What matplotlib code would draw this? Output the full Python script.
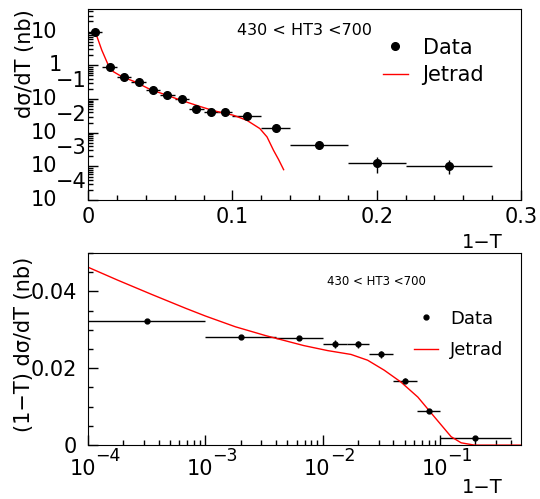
import numpy as np
import matplotlib
matplotlib.use("Agg")
import matplotlib.pyplot as plt
from matplotlib.lines import Line2D
from matplotlib.ticker import MultipleLocator, LogLocator, NullFormatter

plt.rcParams['font.family'] = ['DejaVu Sans']

# top panel: d sigma / dT, linear 1-T
t_x = [0.005, 0.015, 0.025, 0.035, 0.045, 0.055, 0.065, 0.075, 0.085, 0.095,
       0.11, 0.13, 0.16, 0.20, 0.25]
t_lo = [0.0025, 0.01, 0.02, 0.03, 0.04, 0.05, 0.06, 0.07, 0.08, 0.09,
        0.10, 0.12, 0.14, 0.18, 0.22]
t_hi = [0.0095, 0.02, 0.03, 0.04, 0.05, 0.06, 0.07, 0.08, 0.09, 0.10,
        0.12, 0.14, 0.18, 0.22, 0.28]
t_y = [10.0, 0.91, 0.44, 0.33, 0.186, 0.132, 0.099, 0.051, 0.042, 0.042,
       0.032, 0.014, 0.0042, 0.00124, 0.00106]
t_err = [0.2, 0.02, 0.01, 0.008, 0.005, 0.004, 0.003, 0.002, 0.0015, 0.0015,
         0.0012, 0.0008, 0.0005, 0.0006, 0.00047]

jet_x = [0.005, 0.0095, 0.014, 0.0175, 0.0235, 0.0325, 0.043, 0.0545, 0.064,
         0.0776, 0.087, 0.1007, 0.11, 0.119, 0.124, 0.1285, 0.132, 0.1355]
jet_y = [10.0, 2.85, 1.02, 0.65, 0.46, 0.325, 0.193, 0.13, 0.093,
         0.06, 0.045, 0.033, 0.0234, 0.0133, 0.0075, 0.003, 0.0016, 0.0008]

# bottom panel: (1-T) d sigma / dT, log 1-T
b_x = [3.16e-4, 2.0e-3, 6.3e-3, 0.0126, 0.02, 0.0316, 0.0502, 0.08, 0.2]
b_lo = [1e-4, 1e-3, 4e-3, 0.01, 0.016, 0.025, 0.04, 0.063, 0.1]
b_hi = [1e-3, 4e-3, 1e-2, 0.016, 0.025, 0.04, 0.063, 0.1, 0.4]
b_y = [0.0322, 0.0281, 0.0279, 0.0264, 0.0262, 0.0236, 0.0168, 0.0089, 0.0019]
b_err = [0.0003, 0.0003, 0.0003, 0.001, 0.001, 0.0009, 0.0007, 0.0005, 0.0003]

jb_x = [1e-4, 1.8e-4, 3.5e-4, 6.8e-4, 1e-3, 1.8e-3, 3.26e-3, 6.9e-3, 0.011,
        0.0174, 0.0241, 0.0334, 0.0464, 0.0646, 0.0891, 0.124, 0.151, 0.196, 0.5]
jb_y = [0.0463, 0.0429, 0.0392, 0.0356, 0.0336, 0.0308, 0.0285, 0.0259, 0.0246,
        0.0236, 0.0221, 0.0195, 0.0164, 0.0125, 0.0074, 0.0022, 0.0006, 0.0, 0.0]

top_ticks = [1e-4, 1e-3, 1e-2, 1e-1, 1, 10]
top_exp = ['\u22124', '\u22123', '\u22122', '\u22121', None, None]
bot_ticks = [1e-4, 1e-3, 1e-2, 1e-1]
bot_exp = ['\u22124', '\u22123', '\u22122', '\u22121']

fig = plt.figure(figsize=(5.4, 4.99), dpi=100)
ax1 = fig.add_axes([0.163, 0.599, 0.802, 0.383])
ax2 = fig.add_axes([0.163, 0.108, 0.802, 0.385])

# ---- top panel
xe = [np.array(t_x) - np.array(t_lo), np.array(t_hi) - np.array(t_x)]
ax1.errorbar(t_x, t_y, xerr=xe, yerr=t_err, fmt='o', color='black', ms=5.5,
             elinewidth=1, capsize=0)
ax1.plot(jet_x, jet_y, color='red', lw=1)
ax1.set_yscale('log')
ax1.set_xlim(0, 0.3)
ax1.set_ylim(1e-4, 47)
ax1.set_xticks([0, 0.1, 0.2, 0.3])
ax1.set_xticklabels(['0', '0.1', '0.2', '0.3'])
ax1.xaxis.set_minor_locator(MultipleLocator(0.02))
ax1.yaxis.set_major_locator(LogLocator(base=10, numticks=20))
ax1.yaxis.set_minor_locator(LogLocator(base=10, subs=np.arange(2, 10), numticks=20))
ax1.yaxis.set_major_formatter(NullFormatter())
ax1.yaxis.set_minor_formatter(NullFormatter())
ax1.tick_params(axis='both', which='major', direction='in', length=7, width=1,
                labelsize=15, top=False, right=False)
ax1.tick_params(axis='both', which='minor', direction='in', length=3.5, width=1,
                top=False, right=False)
ax1.tick_params(axis='x', pad=5)
ytr = ax1.get_yaxis_transform()
for v, e in zip(top_ticks, top_exp):
    if v == 1:
        ax1.annotate('1', xy=(0, v), xycoords=ytr, xytext=(-19, 0),
                     textcoords='offset points', ha='right', va='center',
                     fontsize=15, annotation_clip=False)
        continue
    ax1.annotate('10', xy=(0, v), xycoords=ytr, xytext=(-22, 0),
                 textcoords='offset points', ha='right', va='center',
                 fontsize=15, annotation_clip=False)
    if e:
        ax1.annotate(e, xy=(0, v), xycoords=ytr, xytext=(-23, 13),
                     textcoords='offset points', ha='left', va='center',
                     fontsize=15, annotation_clip=False)
ax1.set_xlabel('1\u2212T', fontsize=14, loc='right')
ax1.xaxis.set_label_coords(0.958, -0.17)
ax1.set_ylabel('d\u03c3/dT (nb)', fontsize=15, loc='top')
ax1.yaxis.set_label_coords(-0.122, 1.0)
ax1.text(0.501, 0.89, '430 < HT3 <700', transform=ax1.transAxes,
         ha='center', va='center', fontsize=11.5)
h1 = [Line2D([], [], ls='none', marker='o', color='black', ms=5.5),
      Line2D([], [], color='red', lw=1)]
ax1.legend(h1, ['Data', 'Jetrad'], loc='upper left', bbox_to_anchor=(0.681, 0.85),
           frameon=False, fontsize=15, handlelength=1.2, handletextpad=0.7,
           labelspacing=0.35, borderpad=0, borderaxespad=0)

# ---- bottom panel
xe2 = [np.array(b_x) - np.array(b_lo), np.array(b_hi) - np.array(b_x)]
ax2.errorbar(b_x, b_y, xerr=xe2, yerr=b_err, fmt='o', color='black', ms=3.5,
             elinewidth=1, capsize=0)
ax2.plot(jb_x, jb_y, color='red', lw=1)
ax2.set_xscale('log')
ax2.set_xlim(1e-4, 0.49)
ax2.set_ylim(0, 0.05)
ax2.set_xticks(bot_ticks)
ax2.xaxis.set_minor_locator(LogLocator(base=10, subs=np.arange(2, 10), numticks=20))
ax2.xaxis.set_major_formatter(NullFormatter())
ax2.xaxis.set_minor_formatter(NullFormatter())
ax2.set_yticks([0, 0.02, 0.04])
ax2.set_yticklabels(['0', '0.02', '0.04'])
ax2.yaxis.set_minor_locator(MultipleLocator(0.005))
ax2.tick_params(axis='both', which='major', direction='in', length=7, width=1,
                labelsize=15, top=False, right=False)
ax2.tick_params(axis='both', which='minor', direction='in', length=3.5, width=1,
                top=False, right=False)
ax2.tick_params(axis='y', pad=8)
xtr = ax2.get_xaxis_transform()
for v, e in zip(bot_ticks, bot_exp):
    ax2.annotate('10', xy=(v, 0), xycoords=xtr, xytext=(-4, -17),
                 textcoords='offset points', ha='center', va='center',
                 fontsize=15, annotation_clip=False)
    ax2.annotate(e, xy=(v, 0), xycoords=xtr, xytext=(5, -7.5),
                 textcoords='offset points', ha='left', va='center',
                 fontsize=12.5, annotation_clip=False)
ax2.set_xlabel('1\u2212T', fontsize=14, loc='right')
ax2.xaxis.set_label_coords(0.958, -0.17)
ax2.set_ylabel('(1\u2212T) d\u03c3/dT (nb)', fontsize=15, loc='top')
ax2.yaxis.set_label_coords(-0.125, 0.98)
ax2.text(0.665, 0.854, '430 < HT3 <700', transform=ax2.transAxes,
         ha='center', va='center', fontsize=8.5)
h2 = [Line2D([], [], ls='none', marker='o', color='black', ms=3.5),
      Line2D([], [], color='red', lw=1)]
ax2.legend(h2, ['Data', 'Jetrad'], loc='upper left', bbox_to_anchor=(0.753, 0.705),
           frameon=False, fontsize=13, handlelength=1.3, handletextpad=0.7,
           labelspacing=0.75, borderpad=0, borderaxespad=0)

fig.savefig('out.png', dpi=100)
